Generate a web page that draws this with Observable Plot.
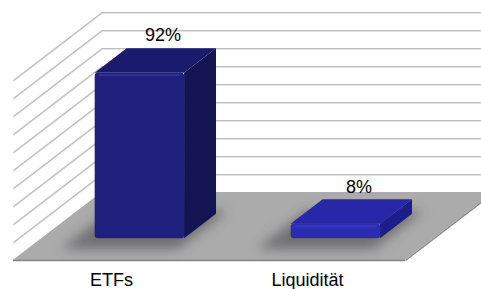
<!DOCTYPE html>
<html>
<head>
<meta charset="utf-8">
<script src="https://cdn.jsdelivr.net/npm/d3@7"></script>
<script src="https://cdn.jsdelivr.net/npm/@observablehq/plot@0.6"></script>
<style>
  html, body { margin: 0; padding: 0; background: #fff; overflow: hidden; }
  #chart svg { display: block; overflow: hidden; }
</style>
</head>
<body>
<div id="chart"></div>
<script>
// ---- data ----
const categories = ["ETFs", "Liquidität"];
const values = [92, 8];
const valueLabels = ["92%", "8%"];
const gridTicks = [0, 10, 20, 30, 40, 50, 60, 70, 80, 90, 100];

// ---- styles ----
const frontColors = ["#1f1f7c", "#2b2bb4"];
const topColors   = ["#1b1b6e", "#2727a8"];
const sideColors  = ["#141452", "#1d1d8a"];
const shadowColor = "#4a4a4b";

// ---- oblique 3D geometry (in scale units) ----
const depthX = 0.4526;   // x-units shift for full depth
const depthY = 37.78;    // value-units shift for full depth
const zFront = 0.32, zBack = 0.68, halfW = 0.228;

const bars = categories.map((cat, i) => ({cat, i, value: values[i], label: valueLabels[i], c: i + 0.5}));

const sideData = bars.flatMap(d => [
  {cat: d.cat, i: d.i, x: d.c + halfW + zFront * depthX, y1: zFront * depthY, y2: d.value + zFront * depthY},
  {cat: d.cat, i: d.i, x: d.c + halfW + zBack * depthX,  y1: zBack * depthY,  y2: d.value + zBack * depthY}
]);
const topData = bars.flatMap(d => [
  {cat: d.cat, i: d.i, y: d.value + zFront * depthY, x1: d.c - halfW + zFront * depthX, x2: d.c + halfW + zFront * depthX},
  {cat: d.cat, i: d.i, y: d.value + zBack * depthY,  x1: d.c - halfW + zBack * depthX,  x2: d.c + halfW + zBack * depthX}
]);
const shF = zFront - 0.16, shB = zBack + 0.04;
const shadowData = bars.flatMap(d => [
  {cat: d.cat, y: shF * depthY, x1: d.c - halfW - 0.1 + shF * depthX, x2: d.c + halfW + 0.04 + shF * depthX},
  {cat: d.cat, y: shB * depthY, x1: d.c - halfW - 0.1 + shB * depthX, x2: d.c + halfW + 0.04 + shB * depthX}
]);
const floorData = [
  {y: 0, x1: 0, x2: 2},
  {y: depthY, x1: depthX, x2: 2 + depthX}
];

const font = "Liberation Sans, Arial, Helvetica, sans-serif";

const chart = Plot.plot({
  width: 481,
  height: 289,
  marginLeft: 13,
  marginRight: 76,
  marginTop: 12,
  marginBottom: 29,
  style: {fontFamily: font, background: "#fff", overflow: "hidden"},
  x: {domain: [0, 2], axis: null},
  y: {domain: [0, 100 + depthY], axis: null},
  color: {type: "identity"},
  marks: [
    // back wall grid lines
    Plot.ruleY(gridTicks, {y: t => t + depthY, x1: depthX, x2: 2 + depthX, stroke: "#e4e4e4", strokeWidth: 1, dy: 1}),
    Plot.ruleY(gridTicks, {y: t => t + depthY, x1: depthX, x2: 2 + depthX, stroke: "#bdbdbd", strokeWidth: 1.2}),
    // side wall grid lines
    Plot.link(gridTicks, {x1: depthX, y1: t => t + depthY, x2: 0, y2: t => t, stroke: "#e4e4e4", strokeWidth: 1, dy: 1}),
    Plot.link(gridTicks, {x1: depthX, y1: t => t + depthY, x2: 0, y2: t => t, stroke: "#bdbdbd", strokeWidth: 1.2}),
    // floor
    Plot.areaX(floorData, {y: "y", x1: "x1", x2: "x2", fill: "#ababab"}),
    Plot.ruleY([0], {x1: 0, x2: 2, stroke: "#858585", strokeWidth: 1.5}),
    Plot.link([0], {x1: 2, y1: 0, x2: 2 + depthX, y2: depthY, stroke: "#858585", strokeWidth: 1.2}),
    // shadows
    Plot.areaX(shadowData, {y: "y", x1: "x1", x2: "x2", z: "cat", fill: shadowColor, fillOpacity: 0.6}),
    // bars: side, top, front
    Plot.areaY(sideData, {x: "x", y1: "y1", y2: "y2", z: "cat", fill: d => sideColors[d.i]}),
    Plot.areaX(topData, {y: "y", x1: "x1", x2: "x2", z: "cat", fill: d => topColors[d.i]}),
    Plot.rect(bars, {
      x1: d => d.c - halfW + zFront * depthX,
      x2: d => d.c + halfW + zFront * depthX,
      y1: zFront * depthY,
      y2: d => d.value + zFront * depthY,
      fill: d => frontColors[d.i],
      rx: 3
    }),
    // subtle highlight along front-top edge
    Plot.ruleY(bars, {
      y: d => d.value + zFront * depthY,
      x1: d => d.c - halfW + zFront * depthX + 0.02,
      x2: d => d.c + halfW + zFront * depthX - 0.02,
      stroke: "#5555d0", strokeOpacity: 0.35, strokeWidth: 2, dy: 2
    }),
    // value labels
    Plot.text(bars, {
      x: d => d.c + 0.58 * depthX,
      y: d => d.value + zBack * depthY,
      text: "label",
      dy: -13,
      fontSize: 18,
      fill: "#000",
      lineAnchor: "middle"
    }),
    // category labels
    Plot.text(bars, {
      x: "c",
      y: 0,
      text: "cat",
      dy: 20,
      fontSize: 18,
      fill: "#000",
      lineAnchor: "middle"
    })
  ]
});

// soft blur for shadows
const svg = d3.select(chart);
const defs = svg.insert("defs", ":first-child");
defs.append("filter").attr("id", "shblur").attr("filterUnits", "userSpaceOnUse")
  .attr("x", 0).attr("y", 0).attr("width", 481).attr("height", 289)
  .append("feGaussianBlur").attr("stdDeviation", 6);
svg.selectAll("g").filter(function() { return this.getAttribute("fill") === shadowColor; })
  .attr("filter", "url(#shblur)");

document.getElementById("chart").appendChild(chart);
</script>
</body>
</html>
